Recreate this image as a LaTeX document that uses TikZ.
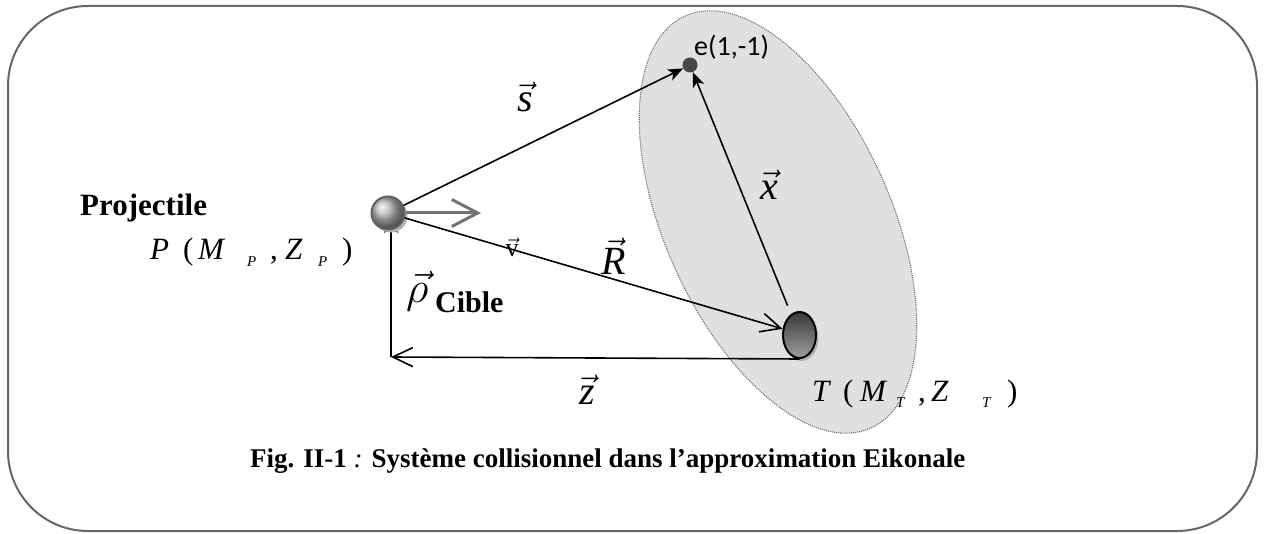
\RequirePackage{fix-cm}
\documentclass[tikz,border=0pt]{standalone}
\usepackage{fontspec}
\setmainfont{Liberation Serif}
\newfontfamily\calib{Carlito}
\usetikzlibrary{arrows.meta,shapes.geometric,shadings}
\begin{document}
\begin{tikzpicture}[x=1pt,y=-1pt,
  conn/.style={line width=1.6pt},
  fillhead/.style={-{Stealth[length=15pt,width=12pt,inset=4pt]}},
  openhead/.style={-{Straight Barb[length=20pt,width=19pt]}},
  vlbl/.style={anchor=base,inner sep=0pt,font=\fontsize{40}{42}\selectfont},
  plbl/.style={anchor=base west,inner sep=0pt,font=\fontsize{31}{33}\selectfont},
  tlbl/.style={anchor=base west,inner sep=0pt,font=\fontsize{31}{33}\selectfont},
  subl/.style={anchor=base west,inner sep=0pt,font=\fontsize{15}{16}\selectfont},
]
\useasboundingbox (0,0) rectangle (1269,534);
\draw[rounded corners=80pt, line width=2pt, draw=black!60] (8,6) rectangle (1257,531);
% electron cloud
\draw[fill=black!12, draw=black!55, densely dotted, line width=1.1pt, rotate around={24.3:(778,222)}] (778,222) ellipse [x radius=113pt, y radius=226pt];
% coordinates
\coordinate (pc) at (388,213);
\coordinate (c) at (391,357);
\coordinate (vend) at (481,213);
% rho vertical line (tip hidden under ball)
\draw[conn, -{Stealth[length=16pt,width=14pt]}, shorten >=4pt] (c) -- (c |- pc);
% projectile ball
\fill[black!30] (391,216) circle (16.5pt);
\node (P) [circle, minimum size=33pt, inner sep=0pt, draw=black!62, line width=2pt, shading=ball, ball color=black!28] at (pc) {};
% target
\fill[black!30] (802,338) ellipse [x radius=16.5pt, y radius=23pt];
\node (T) [ellipse, minimum width=33pt, minimum height=46pt, inner sep=0pt, draw=black, line width=2pt, top color=black!78, bottom color=black!38] at (799.5,335) {};
% electron
\node (e) [circle, minimum size=15pt, inner sep=0pt, fill=black!72] at (690,65) {};
\node (elbl) [anchor=base west, inner sep=0pt, font=\calib\fontsize{28}{30}\selectfont] at (694,56) {e(1,-1)};
% velocity
\draw[line width=3pt, black!55, -{Straight Barb[length=26pt,width=27pt]}] (P.east) -- (vend);
% vectors
\draw[conn, fillhead] (P) -- (e);
\draw[conn, openhead] (P) -- (T.160);
\draw[conn, fillhead, shorten <=9pt] (T) -- (e);
\draw[conn, openhead] (T.south) -- (c);
% vector labels
\node (sl) [vlbl] at (525,112) {$\vec{\mbox{\itshape s}}$};
\node (vl) [vlbl, font=\fontsize{26}{28}\selectfont] at (512,257) {$\vec{\mbox{v}}$};
\node (Rl) [vlbl] at (614,275) {$\vec{\mbox{\itshape R}}$};
\node (xl) [vlbl] at (769,200) {$\vec{\mbox{\itshape x}}$};
\node (zl) [vlbl] at (587,405) {$\vec{\mbox{\itshape z}}$};
\node (rhol) [anchor=base west, inner sep=0pt, font=\fontsize{44}{46}\selectfont] at (406,303) {$\vec{\rho}$};
\node (cible) [anchor=base west, inner sep=0pt, font=\bfseries\fontsize{30}{32}\selectfont] at (435,313) {Cible};
% projectile text
\node (proj) [anchor=base west, inner sep=0pt, font=\bfseries\fontsize{31}{33}\selectfont] at (80,216) {Projectile};
% P label
\node (p1) [plbl] at (150,260) {\itshape P};
\node (p2) [plbl] at (183,260) {(};
\node (p3) [plbl] at (198,260) {\itshape M};
\node (p4) [subl] at (247,267) {\itshape P};
\node (p5) [plbl] at (270,260) {,};
\node (p6) [plbl] at (285,260) {\itshape Z};
\node (p7) [subl] at (318,267) {\itshape P};
\node (p8) [plbl] at (342,260) {)};
% T label
\node (t1) [tlbl] at (812,402) {\itshape T};
\node (t2) [tlbl] at (843,402) {(};
\node (t3) [tlbl] at (860,402) {\itshape M};
\node (t4) [subl] at (896,408) {\itshape T};
\node (t5) [tlbl] at (918,402) {,};
\node (t6) [tlbl] at (931,402) {\itshape Z};
\node (t7) [subl] at (982,408) {\itshape T};
\node (t8) [tlbl] at (1007,402) {)};
% caption
\node (cap) [anchor=base west, inner sep=0pt, font=\bfseries\fontsize{27}{29}\selectfont] at (250,467) {Fig. II-1 {\mdseries\itshape :} Système collisionnel dans l’approximation Eikonale};
\end{tikzpicture}
\end{document}
